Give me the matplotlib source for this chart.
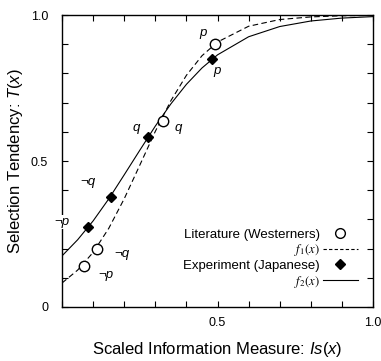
import numpy as np
import matplotlib
matplotlib.use('Agg')
import matplotlib.pyplot as plt
from matplotlib.lines import Line2D

plt.rcParams['font.family'] = ['Liberation Sans', 'DejaVu Sans']
plt.rcParams['mathtext.fontset'] = 'custom'
plt.rcParams['mathtext.rm'] = 'Liberation Sans'
plt.rcParams['mathtext.it'] = 'Liberation Sans:italic'

# literature (westerners), open circles: ~p, ~q, q, p
lit_x = [0.071, 0.113, 0.325, 0.492]
lit_y = [0.140, 0.199, 0.637, 0.901]
# experiment (japanese), filled diamonds: ~p, ~q, q, p
exp_x = [0.084, 0.158, 0.277, 0.482]
exp_y = [0.274, 0.377, 0.582, 0.849]

# fitted curves
curve_x = [0, 0.05, 0.1, 0.15, 0.2, 0.25, 0.3, 0.35, 0.4, 0.45, 0.5, 0.6, 0.7, 0.8, 0.9, 1.0]
f1_y = [0.082, 0.126, 0.187, 0.269, 0.371, 0.486, 0.602, 0.707, 0.794, 0.861, 0.908,
        0.962, 0.985, 0.994, 0.998, 0.999]
f2_y = [0.175, 0.230, 0.295, 0.370, 0.453, 0.537, 0.620, 0.696, 0.763, 0.819, 0.864,
        0.926, 0.961, 0.980, 0.990, 0.995]

# point labels
lab_text = ['p', 'p', 'q', 'q', '¬q', '¬p', '¬q', '¬p']
lab_x = [0.453, 0.498, 0.238, 0.373, 0.084, 0.0, 0.193, 0.141]
lab_y = [0.938, 0.808, 0.613, 0.613, 0.428, 0.291, 0.182, 0.110]

fig = plt.figure(figsize=(3.81, 3.61), dpi=100)
ax = fig.add_axes([0.163, 0.150, 0.816, 0.808])

ax.plot(curve_x, f1_y, color='k', lw=0.8, ls=(0, (5, 3)))
ax.plot(curve_x, f2_y, color='k', lw=0.8)
ax.plot(lit_x, lit_y, 'o', ms=7.5, mfc='white', mec='k', mew=1.0, zorder=3)
ax.plot(exp_x, exp_y, 'D', ms=5, mfc='k', mec='k', zorder=3)

for t, x, y in zip(lab_text, lab_x, lab_y):
    ax.text(x, y, t, style='italic', fontsize=9.5, ha='center', va='center',
            clip_on=False, zorder=5,
            bbox=dict(fc='white', ec='none', pad=0.5) if x == 0 else None)

ax.set_xlim(0, 1)
ax.set_ylim(0, 1)
ax.set_xticks(np.arange(0, 1.01, 0.1))
ax.set_xticklabels(['' if i not in (5, 10) else ('0.5' if i == 5 else '1.0') for i in range(11)])
ax.set_yticks(np.arange(0, 1.01, 0.1))
ax.set_yticklabels(['0' if i == 0 else ('0.5' if i == 5 else ('1.0' if i == 10 else '')) for i in range(11)])
ax.tick_params(direction='in', top=True, right=True, length=4, width=0.8, labelsize=9)
ax.tick_params(axis='y', pad=10)
ax.tick_params(axis='x', pad=7)
for s in ax.spines.values():
    s.set_linewidth(1.0)

ax.set_xlabel('Scaled Information Measure: $\\mathit{Is}(\\mathit{x})$', fontsize=12, labelpad=8)
ax.set_ylabel('Selection Tendency: $\\mathit{T}(\\mathit{x})$', fontsize=12, labelpad=4)

handles = [
    Line2D([], [], ls='none', marker='o', ms=7, mfc='white', mec='k'),
    Line2D([], [], color='k', lw=0.8, ls=(0, (3, 2))),
    Line2D([], [], ls='none', marker='D', ms=5, mfc='k', mec='k'),
    Line2D([], [], color='k', lw=0.8),
]
labels = ['Literature (Westerners)', '$f_1(x)$', 'Experiment (Japanese)', '$f_2(x)$']
leg = ax.legend(handles, labels, loc='lower right', bbox_to_anchor=(0.968, 0.041),
                markerfirst=False, frameon=False, fontsize=9.5, handlelength=2.65,
                handletextpad=0.25, labelspacing=0.12, borderaxespad=0)
for i in (1, 3):
    leg.get_texts()[i].set_math_fontfamily('stix')
    leg.get_texts()[i].set_fontsize(9)

fig.savefig('out.png', dpi=100)
